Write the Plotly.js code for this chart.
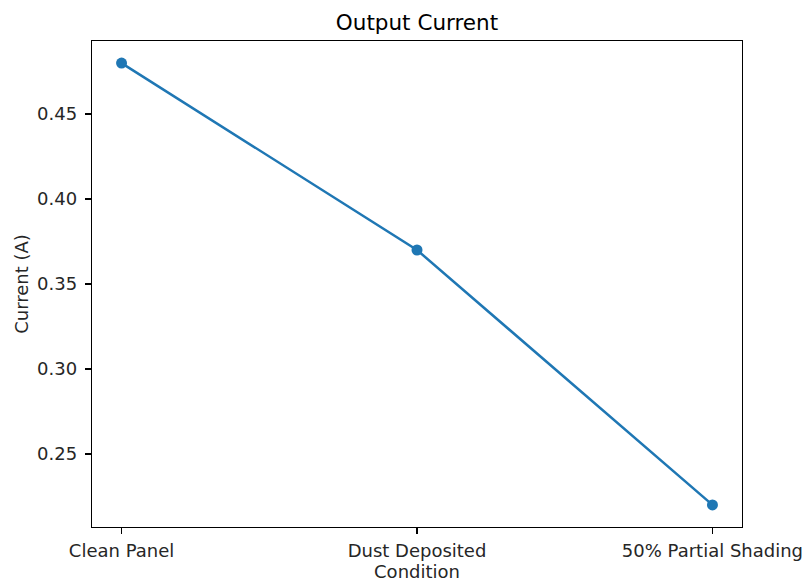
<!DOCTYPE html>
<html>
<head>
<meta charset="utf-8">
<script src="https://cdn.plot.ly/plotly-3.0.1.min.js"></script>
<style>html,body{margin:0;padding:0;background:#fff;}#chart{width:804px;height:582px;}</style>
</head>
<body>
<div id="chart"></div>
<script>
const conditions = ["Clean Panel", "Dust Deposited", "50% Partial Shading"];
const currentA = [0.48, 0.37, 0.22];
const yTicks = [0.25, 0.30, 0.35, 0.40, 0.45];

const font = {family: "DejaVu Sans, sans-serif", color: "#262626", size: 18};
const trace = {
  x: [0, 1, 2],
  y: currentA,
  type: "scatter",
  mode: "lines+markers",
  line: {color: "#1f77b4", width: 2.5},
  marker: {color: "#1f77b4", size: 11},
  hoverinfo: "skip"
};
const axisCommon = {
  showgrid: false, zeroline: false, showline: true, mirror: true,
  linecolor: "#000", linewidth: 1.3, ticks: "outside", ticklen: 6,
  tickcolor: "#000", tickwidth: 1.3, tickfont: font
};
const layout = {
  width: 804, height: 582,
  margin: {l: 92, r: 62, t: 41, b: 55},
  paper_bgcolor: "#fff", plot_bgcolor: "#fff",
  font: font,
  showlegend: false,
  title: {text: "Output Current", font: {family: font.family, size: 21.5, color: "#000"}, x: (92 + 742) / 2 / 804, xanchor: "center", y: 1 - 22/582, yanchor: "middle"},
  xaxis: Object.assign({}, axisCommon, {
    range: [-0.1, 2.1], tickvals: [0, 1, 2], ticktext: conditions,
    ticklabelstandoff: 1,
    title: {text: "Condition", font: font, standoff: 5}
  }),
  yaxis: Object.assign({}, axisCommon, {
    range: [0.207, 0.493], tickvals: yTicks, ticktext: yTicks.map(v => v.toFixed(2)),
    ticklabelstandoff: 4,
    title: {text: "Current (A)", font: font, standoff: 3}
  })
};
Plotly.newPlot("chart", [trace], layout, {staticPlot: true, displayModeBar: false});
</script>
</body>
</html>
